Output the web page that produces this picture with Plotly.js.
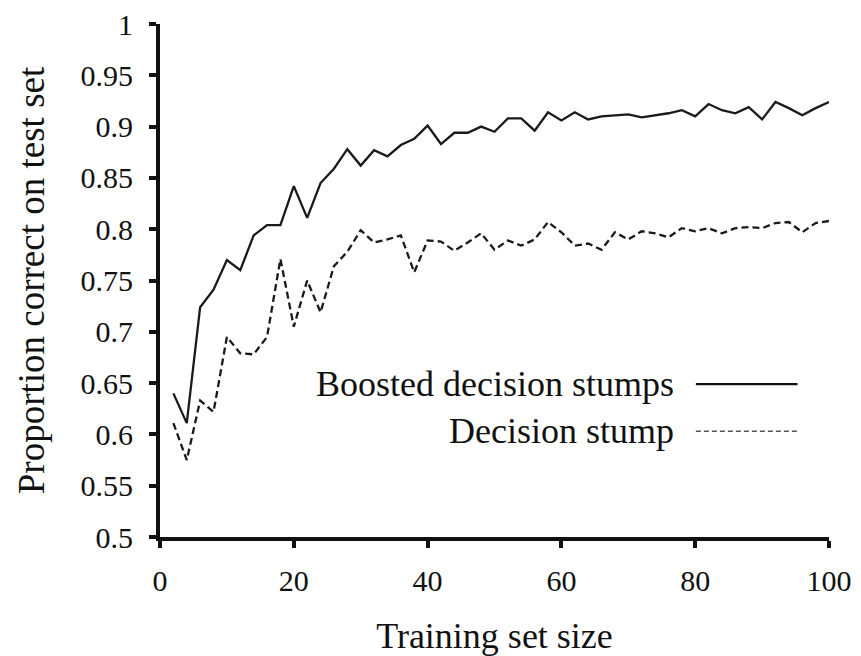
<!DOCTYPE html>
<html>
<head>
<meta charset="utf-8">
<script src="https://cdn.plot.ly/plotly-3.0.1.min.js"></script>
<style>html,body{margin:0;padding:0;background:#fff;}#chart{width:861px;height:656px;}</style>
</head>
<body>
<div id="chart"></div>
<script>
const trainingSize = [2,4,6,8,10,12,14,16,18,20,22,24,26,28,30,32,34,36,38,40,42,44,46,48,50,52,54,56,58,60,62,64,66,68,70,72,74,76,78,80,82,84,86,88,90,92,94,96,98,100];
const boosted = [0.640,0.611,0.724,0.741,0.770,0.760,0.794,0.804,0.804,0.842,0.811,0.845,0.859,0.878,0.862,0.877,0.871,0.882,0.888,0.901,0.883,0.894,0.894,0.900,0.895,0.908,0.908,0.896,0.914,0.906,0.914,0.907,0.910,0.911,0.912,0.909,0.911,0.913,0.916,0.910,0.922,0.916,0.913,0.919,0.907,0.924,0.918,0.911,0.918,0.924];
const stump = [0.611,0.575,0.633,0.622,0.695,0.679,0.678,0.695,0.771,0.705,0.750,0.719,0.764,0.778,0.799,0.787,0.790,0.794,0.758,0.789,0.788,0.779,0.787,0.796,0.780,0.789,0.784,0.790,0.807,0.797,0.784,0.786,0.780,0.797,0.790,0.798,0.796,0.792,0.801,0.798,0.801,0.796,0.801,0.802,0.801,0.806,0.807,0.797,0.806,0.808];
const seriesNames = ["Boosted decision stumps", "Decision stump"];
const xTicks = [0,20,40,60,80,100];
const yTicks = [0.5,0.55,0.6,0.65,0.7,0.75,0.8,0.85,0.9,0.95,1];
const yTickText = ["0.5","0.55","0.6","0.65","0.7","0.75","0.8","0.85","0.9","0.95","1"];

const font = "Liberation Serif, Times New Roman, serif";
const ink = "#111";

const traces = [
  {x: trainingSize, y: boosted, name: seriesNames[0], mode: "lines", line: {color: "#1a1a1a", width: 2.3}, showlegend: false},
  {x: trainingSize, y: stump, name: seriesNames[1], mode: "lines", line: {color: "#1a1a1a", width: 2.3, dash: "7px,4px"}, showlegend: false}
];

const layout = {
  width: 861, height: 656,
  margin: {l: 160, r: 32, t: 24, b: 119},
  paper_bgcolor: "#fff", plot_bgcolor: "#fff",
  font: {family: font, size: 30, color: ink},
  xaxis: {
    range: [0, 100], tickvals: xTicks, ticks: "outside", ticklen: 7, tickwidth: 4, tickcolor: ink,
    showline: true, linewidth: 4, linecolor: ink, showgrid: false, zeroline: false,
    tickfont: {family: font, size: 30, color: ink}, ticklabelstandoff: 7,
    title: {text: "Training set size", font: {family: font, size: 36, color: ink}, standoff: 31}
  },
  yaxis: {
    range: [0.5, 1], tickvals: yTicks, ticktext: yTickText, ticks: "outside", ticklen: 7, tickwidth: 4, tickcolor: ink,
    showline: true, linewidth: 4, linecolor: ink, showgrid: false, zeroline: false,
    tickfont: {family: font, size: 30, color: ink}, ticklabelstandoff: 10,
    title: {text: "Proportion correct on test set", font: {family: font, size: 37, color: ink}, standoff: 26}
  },
  annotations: [
    {xref: "paper", yref: "paper", x: 0.772, y: 0.298, xanchor: "right", yanchor: "middle", text: seriesNames[0], showarrow: false, font: {family: font, size: 36, color: ink}},
    {xref: "paper", yref: "paper", x: 0.772, y: 0.206, xanchor: "right", yanchor: "middle", text: seriesNames[1], showarrow: false, font: {family: font, size: 36, color: ink}}
  ],
  shapes: [
    {type: "line", xref: "paper", yref: "paper", x0: 0.801, x1: 0.953, y0: 0.298, y1: 0.298, line: {color: ink, width: 2.2}},
    {type: "line", xref: "paper", yref: "paper", x0: 0.801, x1: 0.953, y0: 0.206, y1: 0.206, line: {color: "#555", width: 1.5, dash: "5px,3px"}}
  ]
};

Plotly.newPlot("chart", traces, layout, {displayModeBar: false, staticPlot: true});
</script>
</body>
</html>
